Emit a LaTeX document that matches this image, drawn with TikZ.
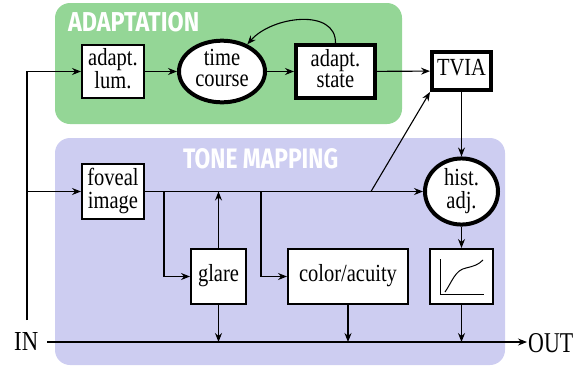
\documentclass[tikz,border=0pt]{standalone}
\usepackage{fontspec}
\setmainfont{Liberation Serif}
\newfontfamily\titlefont{Fira Sans}
\usetikzlibrary{arrows.meta,shapes.geometric}
\definecolor{adaptgreen}{HTML}{94D696}
\definecolor{tonelav}{HTML}{CDCDF1}
\newcommand\mytxt[1]{\scalebox{1}[1.2]{\begin{tabular}{@{}c@{}}#1\end{tabular}}}
\begin{document}
\begin{tikzpicture}[x=1bp,y=-1bp,
  conn/.style={line width=1.1bp},
  arr/.style={conn,-{Stealth[length=9bp,width=7bp,inset=3bp]}},
  thinbox/.style={draw,rectangle,fill=white,line width=2.2bp,inner sep=0pt,
    font=\fontsize{20.5bp}{17.5bp}\selectfont},
  thickbox/.style={thinbox,line width=4bp},
  thickell/.style={thinbox,ellipse,line width=4bp},
  title/.style={anchor=north west,inner sep=0pt,text=white}]
\useasboundingbox (0,0) rectangle (582,366);
% panels
\fill[adaptgreen,rounded corners=15bp] (55,3) rectangle (402,124);
\fill[tonelav,rounded corners=15bp] (55,138) rectangle (505,365);
\node[title] (tadapt) at (68,12.3) {\resizebox{131bp}{19.4bp}{\titlefont\bfseries ADAPTATION}};
\node[title] (ttone) at (183,148) {\resizebox{155bp}{20bp}{\titlefont\bfseries TONE MAPPING}};
% nodes
\node[thinbox,minimum width=61.8bp,minimum height=52.8bp] (lum) at (113,71.5) {\mytxt{adapt.\\lum.}};
\node[thickell,minimum width=86bp,minimum height=53bp] (time) at (222,71.5) {\mytxt{time\\course}};
\node[thickbox,minimum width=79bp,minimum height=53bp] (state) at (335.5,71.5) {\mytxt{adapt.\\state}};
\node[thickbox,minimum width=59bp,minimum height=38bp] (tvia) at (461.5,71) {\mytxt{TVIA}};
\node[thinbox,minimum width=61.8bp,minimum height=54.8bp] (fov) at (113,191.5) {\mytxt{foveal\\image}};
\node[thickell,minimum width=73bp,minimum height=53bp] (hist) at (461.5,191.5) {\mytxt{hist.\\adj.}};
\node[thinbox,minimum width=54.8bp,minimum height=54.8bp] (glare) at (218.5,276.5) {\mytxt{glare}};
\node[thinbox,minimum width=119.8bp,minimum height=54.8bp] (color) at (348,276.5) {\mytxt{color/acuity}};
\node[thinbox,minimum width=62.8bp,minimum height=54.8bp] (curve) at (461.5,276.5) {};
\draw[conn,line width=1bp] (440,259) -- (440,294) -- (484,294);
\draw[conn,line width=1bp] (445,292) .. controls (452,282) and (455,270) .. (466,268)
   .. controls (474,266) and (478,265) .. (483,260);
% IN / OUT
\node[anchor=north west,inner sep=0pt] (in) at (14,332) {\resizebox{24bp}{18bp}{IN}};
\node[anchor=north west,inner sep=0pt] (out) at (528,333) {\resizebox{45bp}{19bp}{OUT}};
\coordinate (busl) at (47,342);
\coordinate (busr) at (527,342);
\draw[arr] (busl) -- (busr);
% input lines
\coordinate (inv) at (27,320);
\coordinate (infov) at (27,191.5);
\draw[arr] (inv) |- (lum.west);
\draw[arr] (infov) -- (fov.west);
% adaptation chain
\draw[arr] (lum) -- (time);
\draw[arr] (time) -- (state);
\draw[arr] (state) -- (tvia);
\draw[arr] (state.north) .. controls (336,8) and (272,16) .. (time.47);
% tone mapping
\draw[arr] (fov.east) -- (hist.west);
\coordinate (b1) at (164,191.5);
\coordinate (b2) at (261,191.5);
\coordinate (b3) at (371,191.5);
\draw[arr] (b1) |- (glare.west);
\draw[arr] (b2) |- (color.west);
\draw[arr] (glare.north) -- (glare.north |- fov.east);
\draw[arr] (b3) -- (tvia.south west);
\draw[arr] (tvia.south) -- (hist.north);
\draw[arr] (hist.south) -- (curve.north);
\draw[arr] (glare.south) -- (glare.south |- busl);
\draw[arr] (color.south) -- (color.south |- busl);
\draw[arr] (curve.south) -- (curve.south |- busl);
\end{tikzpicture}
\end{document}
